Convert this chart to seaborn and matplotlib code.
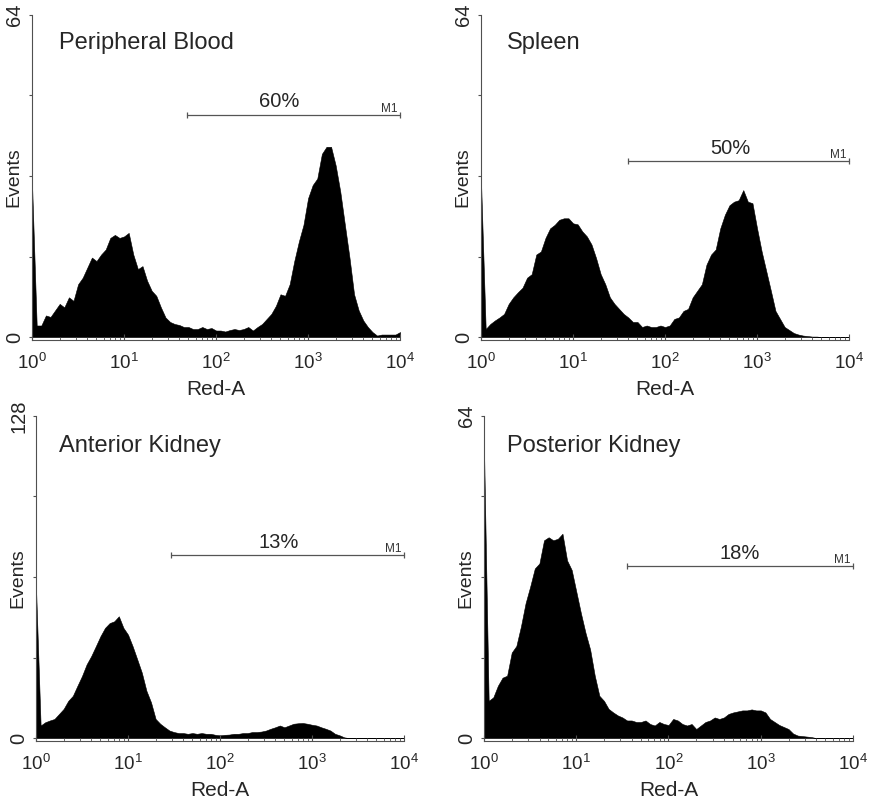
import numpy as np
import pandas as pd
import seaborn as sns
import matplotlib.pyplot as plt
from matplotlib.ticker import LogFormatterSciNotation, LogLocator, NullFormatter


# histogram channels: 81 channels, 0.05 decade apart, from 10^0 to 10^4
log_channel = np.round(np.arange(81) * 0.05, 2)

blood_counts = [30, 2.3, 2.3, 4.3, 4.0, 5.3, 6.6, 5.9, 7.9, 7.2,
                10.5, 11.8, 13.8, 15.8, 15.1, 16.4, 17.4, 19.7, 20.3, 19.7,
                20.0, 20.7, 16.4, 13.5, 14.1, 11.2, 9.2, 8.2, 5.9, 3.9,
                3.0, 2.6, 2.4, 2.0, 2.0, 1.6, 1.6, 2.0, 1.6, 1.8,
                1.3, 1.3, 1.1, 1.4, 1.6, 1.4, 1.6, 2.0, 1.3, 2.0,
                2.6, 3.6, 4.6, 6.2, 8.5, 8.2, 10.5, 15.1, 19.0, 22.3,
                27.6, 30.2, 31.5, 36.4, 37.8, 37.8, 34.1, 28.9, 22.3, 15.8,
                8.5, 5.3, 3.3, 2.0, 1.0, 0.3, 0.5, 0.5, 0.5, 0.5,
                1.0]

spleen_counts = [30.5, 1.6, 2.6, 3.3, 3.9, 4.6, 6.6, 7.9, 8.9, 9.8,
                 11.8, 12.5, 16.4, 17.0, 19.7, 21.6, 22.3, 23.3, 23.6, 23.6,
                 22.6, 22.4, 21.0, 20.0, 18.4, 15.7, 12.5, 10.5, 7.9, 6.6,
                 5.6, 4.6, 3.9, 3.0, 3.0, 2.0, 2.3, 2.0, 2.0, 2.3,
                 2.0, 2.3, 3.6, 3.9, 5.2, 5.6, 7.9, 9.2, 10.5, 14.4,
                 16.4, 17.4, 21.6, 24.3, 26.2, 26.9, 27.2, 29.2, 26.9, 26.6,
                 21.6, 17.0, 13.1, 9.2, 5.2, 3.6, 2.0, 1.4, 0.8, 0.5,
                 0.3, 0.2, 0.1, 0.1, 0, 0, 0, 0, 0, 0,
                 0]

anterior_counts = [59.5, 5.0, 6.3, 7.0, 7.6, 9.6, 11.6, 14.8, 16.8, 20.8,
                   24.7, 29.3, 32.6, 36.5, 40.5, 43.8, 45.7, 46.4, 48.4, 43.8,
                   41.1, 36.5, 31.3, 26.0, 18.8, 14.2, 7.6, 5.7, 4.3, 3.0,
                   2.4, 2.0, 2.0, 1.7, 2.0, 1.7, 2.0, 1.7, 1.7, 1.3,
                   1.1, 1.3, 1.4, 1.7, 1.7, 2.0, 2.0, 2.4, 2.4, 2.6,
                   3.0, 3.7, 4.3, 5.0, 4.3, 5.0, 5.7, 5.9, 6.0, 5.7,
                   5.3, 5.0, 4.3, 3.7, 3.0, 1.7, 1.1, 0.3, 0, 0,
                   0, 0, 0, 0, 0, 0, 0, 0, 0, 0,
                   0]

posterior_counts = [57, 7.4, 8.1, 10.4, 12.0, 12.4, 17.0, 18.3, 22.2, 26.8,
                    30.1, 33.7, 34.7, 39.3, 39.9, 39.3, 39.6, 40.6, 35.3, 33.4,
                    29.1, 24.8, 20.9, 17.6, 12.4, 8.4, 7.4, 5.8, 5.1, 4.5,
                    4.1, 3.5, 3.5, 3.2, 3.2, 3.5, 2.8, 2.5, 3.2, 2.8,
                    2.6, 3.8, 3.5, 2.8, 2.5, 2.8, 1.8, 2.5, 3.2, 3.5,
                    4.1, 3.8, 4.1, 4.8, 5.1, 5.3, 5.5, 5.5, 5.7, 5.5,
                    5.5, 5.1, 3.8, 3.2, 2.6, 2.2, 1.8, 0.9, 0.5, 0.4,
                    0.3, 0.2, 0, 0, 0, 0, 0, 0, 0, 0,
                    0]

titles = ["Peripheral Blood", "Spleen", "Anterior Kidney", "Posterior Kidney"]
all_counts = [blood_counts, spleen_counts, anterior_counts, posterior_counts]
y_max = [64, 64, 128, 64]

# M1 gate: start, end, height of the bar and the % of events inside
gate_start = [48, 40, 29.5, 35.5]
gate_end = [10000, 10000, 10000, 10000]
gate_height = [44.2, 34.9, 72.6, 34.1]
gate_percent = ["60%", "50%", "13%", "18%"]


# layout (figure fractions) and label placement
ax_pos = [[0.0367, 0.5745, 0.4215, 0.4068],
          [0.551, 0.5745, 0.4215, 0.4068],
          [0.0412, 0.0726, 0.4215, 0.4068],
          [0.5544, 0.0726, 0.4227, 0.4068]]
title_x = [0.073, 0.071, 0.063, 0.062]
title_y = [0.895, 0.894, 0.89, 0.89]
pct_x = [10**2.685, 10**2.713, 10**2.634, 10**2.77]

sns.set_style("ticks")
plt.rcParams['font.family'] = ['Liberation Sans', 'DejaVu Sans']
plt.rcParams['mathtext.default'] = 'regular'
axis_col = '#505050'

fig = plt.figure(figsize=(8.73, 7.99), dpi=100)

for i in range(4):
    assert len(all_counts[i]) == len(log_channel)
    ax = fig.add_axes(ax_pos[i])
    df = pd.DataFrame({"red": 10**log_channel, "events": all_counts[i]})

    sns.histplot(data=df, x="red", weights="events", log_scale=True,
                 binwidth=0.05, binrange=(-0.025, 4.025),
                 element="poly", fill=True, color="black", alpha=1,
                 edgecolor="black", linewidth=0.4, ax=ax)

    ym = y_max[i]
    ax.set_xlim(1, 10000)
    # small gap under the baseline, like the cytometer plots
    ax.set_ylim(-0.009 * ym, ym)
    ax.set_axisbelow(False)

    sns.despine(ax=ax)
    for s in ["left", "bottom"]:
        ax.spines[s].set_color(axis_col)
        ax.spines[s].set_linewidth(0.8)

    ax.xaxis.set_major_locator(LogLocator(base=10, numticks=10))
    ax.xaxis.set_minor_locator(LogLocator(base=10, subs=np.arange(2, 10), numticks=20))
    ax.xaxis.set_major_formatter(LogFormatterSciNotation())
    ax.xaxis.set_minor_formatter(NullFormatter())
    ax.tick_params(axis='x', which='major', direction='in', length=4, width=0.8,
                   color=axis_col, labelsize=13.5, pad=9)
    ax.tick_params(axis='x', which='minor', direction='in', length=2.2, width=0.6,
                   color=axis_col)

    ax.set_yticks([0, ym])
    ax.set_yticklabels(["0", str(ym)], rotation=90, va='center')
    ax.set_yticks([ym / 4, ym / 2, 3 * ym / 4], minor=True)
    ax.tick_params(axis='y', which='both', direction='out', length=2.2, width=0.8,
                   color=axis_col, labelsize=14.5, pad=3.5)

    ax.set_xlabel("Red-A", fontsize=15, labelpad=5)
    ax.set_ylabel("Events", fontsize=14)
    ax.yaxis.set_label_coords(-0.026, 0.5)

    ax.text(title_x[i], title_y[i], titles[i], transform=ax.transAxes,
            fontsize=17, ha='left', va='baseline')

    # M1 marker bar
    gx = [gate_start[i], gate_end[i]]
    gy = [gate_height[i], gate_height[i]]
    ax.plot(gx, gy, color='#555555', lw=0.9, clip_on=False)
    ax.plot(gx, gy, ls='none', marker='|', ms=5, mew=0.9, color='#555555', clip_on=False)
    ax.annotate(gate_percent[i], (pct_x[i], gate_height[i]), xytext=(0, 5.5),
                textcoords='offset points', ha='center', va='baseline', fontsize=14.5)
    ax.annotate("M1", (gate_end[i], gate_height[i]), xytext=(-1.5, 2.2),
                textcoords='offset points', ha='right', va='baseline', fontsize=8.5,
                color='#333333')

plt.savefig("out.png", dpi=100)
